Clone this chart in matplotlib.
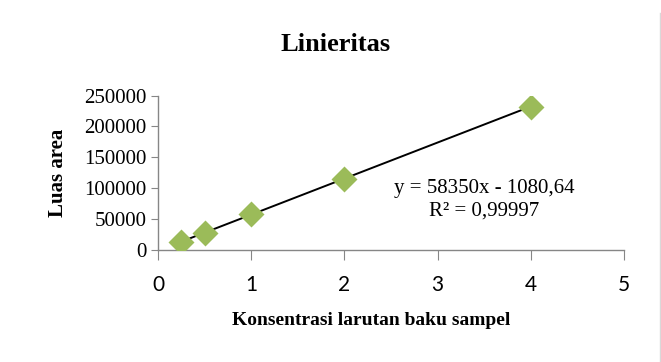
import numpy as np
import matplotlib
matplotlib.use("Agg")
from matplotlib import pyplot as plt
from matplotlib.lines import Line2D

# data
konsentrasi = [0.25, 0.5, 1, 2, 4]
luas_area = [13500, 28000, 58000, 115600, 232300]
x_ticks = [0, 1, 2, 3, 4, 5]
y_ticks = [0, 50000, 100000, 150000, 200000, 250000]

serif = "Liberation Serif"
sans = "Lato"

fig = plt.figure(figsize=(6.61, 3.62), dpi=100)
ax = fig.add_axes([0.239, 0.309, 0.705, 0.427])

# trendline from a linear fit
slope, intercept = np.polyfit(konsentrasi, luas_area, 1)
xs = np.array([min(konsentrasi), max(konsentrasi)])
ax.plot(xs, slope * xs + intercept, color="black", lw=1.4, zorder=2)
ax.scatter(konsentrasi, luas_area, marker="D", s=175, color="#9BBB59", zorder=3, linewidths=0)

ax.set_xlim(0, 5)
ax.set_ylim(0, 250000)
ax.set_xticks(x_ticks)
ax.set_yticks(y_ticks)
ax.set_xticklabels([str(t) for t in x_ticks], fontfamily=sans, fontsize=15)
ax.set_yticklabels([str(t) for t in y_ticks], fontfamily=serif, fontsize=15)

for s in ["top", "right"]:
    ax.spines[s].set_visible(False)
for s in ["left", "bottom"]:
    ax.spines[s].set_color("#868686")
    ax.spines[s].set_linewidth(1.0)
ax.tick_params(axis="x", direction="out", length=7, color="#868686", pad=11)
ax.tick_params(axis="y", direction="out", length=5, color="#868686", pad=3)

fig.text(0.507, 0.876, "Linieritas", fontfamily=serif, fontweight="bold", fontsize=19,
         ha="center", va="center")
fig.text(0.561, 0.116, "Konsentrasi larutan baku sampel", fontfamily=serif, fontweight="bold",
         fontsize=14, ha="center", va="center")
fig.text(0.088, 0.522, "Luas area", fontfamily=serif, fontweight="bold", fontsize=15,
         ha="center", va="center", rotation=90)

ax.text(3.5, 81000, "y = 58350x - 1080,64\nR² = 0,99997", fontfamily=serif, fontsize=15,
        ha="center", va="center", linespacing=1.25)

# chart area border on the right edge
fig.add_artist(Line2D([0.9985, 0.9985], [0, 0.965], transform=fig.transFigure, color="#D9D9D9", lw=1))

fig.savefig("out.png", dpi=100)
